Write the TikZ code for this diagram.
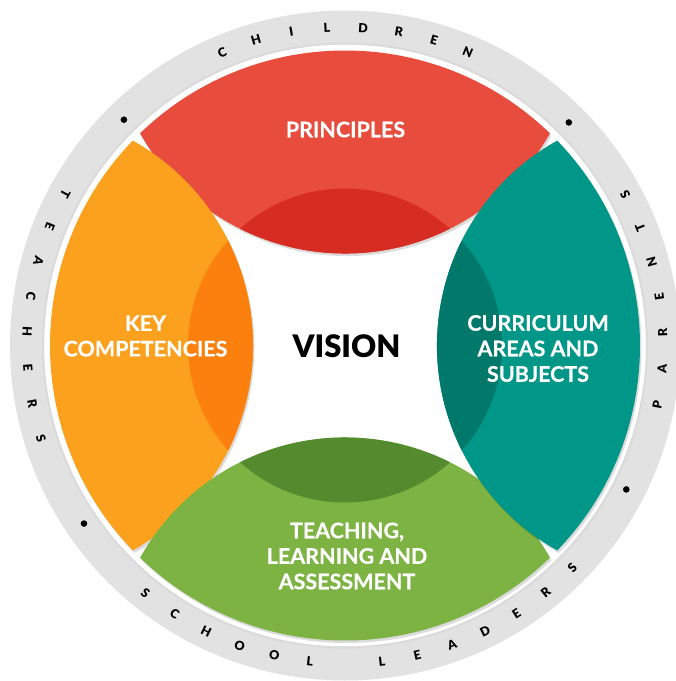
\documentclass[tikz,border=0pt]{standalone}
\usepackage{fontspec}
\setmainfont{Lato}
\newfontfamily\latoblack{Lato Black}
\newfontfamily\latoheavy{Lato Bold}[FakeBold=0.4]
\definecolor{ringgrey}{HTML}{E2E2E2}
\definecolor{redA}{HTML}{E74C3C}
\definecolor{redB}{HTML}{D72C22}
\definecolor{orA}{HTML}{FCA11D}
\definecolor{orB}{HTML}{FC800D}
\definecolor{tealA}{HTML}{009688}
\definecolor{tealB}{HTML}{00796B}
\definecolor{grA}{HTML}{7CB342}
\definecolor{grB}{HTML}{558B2F}
\begin{document}
\begin{tikzpicture}[x=1pt,y=1pt,
  ringletter/.style={font=\latoblack\fontsize{12.5}{12.5}\selectfont, inner sep=0pt, text=black},
  petallabel/.style={font=\latoheavy\fontsize{21.5}{25.5}\selectfont, text=white, align=center, inner sep=0pt},
  shadowfill/.style={fill=black, opacity=0.14}
]
\useasboundingbox (-345,-335.5) rectangle (331,345.5);
% grey ring
\fill[ringgrey, even odd rule] (0,0) circle[radius=335] (0,0) circle[radius=301];
\draw[black!14, line width=2] (0,0) circle[radius=302];
% petal geometry
\pgfmathsetmacro\R{295}
\pgfmathsetmacro\al{44}
\pgfmathsetmacro\dd{92}
\pgfmathsetmacro\cc{(\R-\dd)/(2*(\R*cos(\al)-\dd))*(\R+\dd)}
\pgfmathsetmacro\rr{\cc-\dd}
\pgfmathsetmacro\gam{atan2(\R*sin(\al), \R*cos(\al)-\cc)}
\def\petalpath#1{({#1-\al}:\R) arc[start angle={#1-\al}, end angle={#1+\al}, radius=\R] arc[start angle={#1+\gam}, end angle={#1+360-\gam}, radius=\rr] -- cycle}
\foreach \ph/\ca/\cb in {90/redA/redB, 180/orA/orB, 270/grA/grB, 0/tealA/tealB} {
  \fill[shadowfill, shift={(1.5,-2.5)}] \petalpath{\ph};
  \fill[\ca] \petalpath{\ph};
  \begin{scope}
    \clip \petalpath{\ph};
    \fill[\cb] (0,0) circle[radius=157];
  \end{scope}
}
% labels
\node[petallabel] (principles) at (0.5,216) {PRINCIPLES};
\node[petallabel] (keycomp) at (-199.5,9.5) {KEY\\COMPETENCIES};
\node[petallabel] (curric) at (193,-3) {CURRICULUM\\AREAS AND\\SUBJECTS};
\node[petallabel] (teach) at (2,-210.5) {TEACHING,\\LEARNING AND\\ASSESSMENT};
\node[font=\latoblack\fontsize{31}{31}\selectfont, inner sep=0pt] (vision) at (1.5,-0.5) {VISION};
% ring texts
\foreach \ch [count=\i] in {C,H,I,L,D,R,E,N} {
  \pgfmathsetmacro\ang{112.75-(\i-1)*6.5}
  \node[ringletter, rotate=\ang-90] (c\i) at (\ang:318) {\ch};
}
\foreach \ch [count=\i] in {T,E,A,C,H,E,R,S} {
  \pgfmathsetmacro\ang{151.55+(\i-1)*6.5}
  \node[ringletter, rotate=\ang+90] (t\i) at (\ang:318) {\ch};
}
\foreach \ch [count=\i] in {S,C,H,O,O,L,{},L,E,A,D,E,R,S} {
  \pgfmathsetmacro\ang{231.15+(\i-1)*6.5}
  \node[ringletter, rotate=\ang+90] (s\i) at (\ang:318) {\ch};
}
\foreach \ch [count=\i] in {P,A,R,E,N,T,S} {
  \pgfmathsetmacro\ang{-10.75+(\i-1)*6.5}
  \node[ringletter, rotate=\ang+90] (p\i) at (\ang:318) {\ch};
}
% separator dots
\foreach \a in {134.4, 44.9, 214.3, 332.9}
  \fill[black] (\a:316) circle[radius=3.3];
\end{tikzpicture}
\end{document}
